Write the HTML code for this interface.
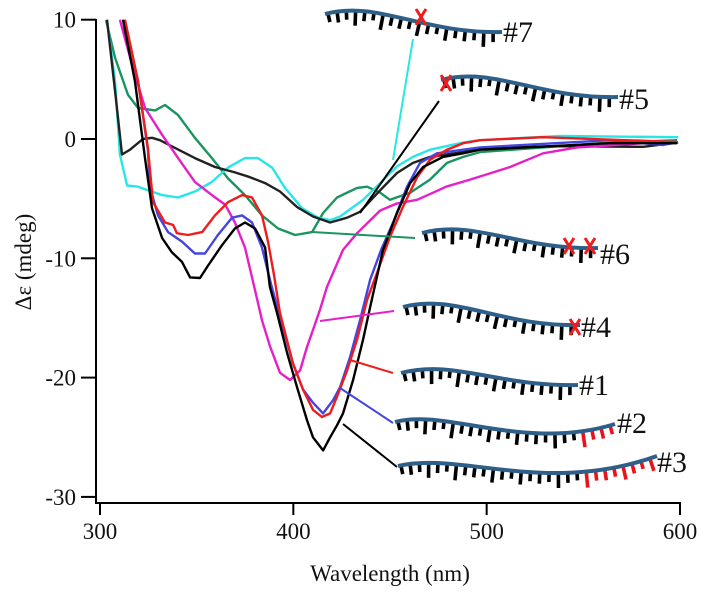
<!DOCTYPE html>
<html><head><meta charset="utf-8"><style>
html,body{margin:0;padding:0;background:#fff;}
svg{display:block;font-family:"Liberation Serif",serif;}
</style></head><body>
<svg id="chart" width="704" height="594" viewBox="0 0 704 594" xmlns="http://www.w3.org/2000/svg">
<g id="axes"></g>
<g id="series"></g>
<g id="cartoons"></g>
</svg>
<script>
const xTicks=[300,400,500,600];
const yTicks=[10,0,-10,-20,-30];
const greenWl=[303.1,307.8,314.5,319.7,328.5,333.6,340.4,349.1,357.9,366.2,375,383.8,392.1,400.9,409.7,415.4,422.6,433,438.1,444.9,450,460.4,470.7,479.5,487.8,496.6,529.2,558.7,598.5];
const greenV=[9.97,6.8,3.7,2.6,2.4,2.85,2.0,0.1,-1.6,-3.3,-4.7,-6.4,-7.5,-8.05,-7.8,-6.2,-4.9,-4.1,-4.0,-4.5,-5.1,-4.5,-3.4,-2.0,-1.5,-1.1,-0.7,-0.35,-0.1];
const cyanWl=[303.6,307.8,310.3,314,319.7,324.8,332.1,340.4,349.1,357.9,366.2,375,381.7,389,395.7,404.5,412.8,419,424.2,436.1,444.9,453.6,461.9,470.7,487.8,496.6,538,599];
const cyanV=[10,4.8,-1.3,-3.9,-4.0,-4.3,-4.7,-4.9,-4.4,-3.6,-2.4,-1.6,-1.6,-2.4,-4.1,-5.8,-6.6,-6.8,-6.5,-5.1,-3.7,-2.3,-1.5,-0.9,-0.3,-0.1,0.25,0.15];
const black5Wl=[303.6,308.3,311.4,315.5,322.2,326.9,331,338.8,349.1,359.5,369.8,377.6,385.4,393.1,401.9,410.2,419,427.8,434.5,444.9,453.6,461.9,470.7,487.8,496.6,538,581,599];
const black5V=[10,3.3,-1.3,-0.9,0,0.1,-0.1,-0.75,-1.6,-2.35,-2.8,-3.2,-3.7,-4.4,-5.7,-6.5,-7.0,-6.6,-6.1,-4.3,-2.85,-2.0,-1.5,-1.1,-0.75,-0.6,-0.65,-0.3];
const magentaWl=[310.3,316.6,323.3,332.1,340.4,349.1,357.9,364.7,369.8,375,380.2,383.8,388,393.1,398.3,403.5,407.1,410.2,413.8,417.4,425.7,433,444.9,453.6,464,472.3,479,491.4,512.1,529.2,546.8,581,598.5];
const magentaV=[10,6.2,2.6,0.35,-1.6,-3.6,-4.7,-5.5,-7.0,-9.1,-12.7,-15.2,-17.4,-19.6,-20.2,-19.4,-17.4,-16,-14.3,-12.4,-9.3,-7.9,-6.0,-5.4,-5.1,-4.5,-4.0,-3.4,-2.35,-1.2,-0.7,-0.35,-0.25];
const redWl=[312.9,319.7,324.8,327.4,333.6,337.8,339.8,345.5,352.8,359.5,366.2,373.5,378.6,383.8,386.9,390,393.1,399.8,405,410.2,414.8,419,422.6,427.8,433,438.1,443.8,450,456.7,464,470.7,479.5,487.8,496.6,529.2,598.5];
const redV=[10,4.8,-0.75,-5.3,-7.0,-7.2,-7.9,-8.05,-7.8,-6.4,-5.3,-4.7,-4.9,-6.4,-8.6,-11.4,-14.6,-18.8,-21,-22.7,-23.3,-23,-21.6,-19.4,-16.8,-13.5,-11,-8.2,-5.7,-3.2,-1.75,-0.9,-0.35,-0.1,0.15,-0.25];
const blueWl=[312.9,319.7,324.8,325.9,330,335.2,342.4,349.1,354.3,361,368.3,373.5,378.6,383.8,388.5,393.1,399.8,405,410.2,415.4,420.5,424.2,429.3,434.5,439.7,445.4,451.6,458.8,465.5,474.3,487.8,496.6,563.8,591.3,599];
const blueV=[10,4.8,-0.9,-4.1,-6.4,-7.8,-8.6,-9.6,-9.6,-8.05,-6.6,-6.4,-7.0,-9.1,-12.2,-14.9,-18.8,-21,-22.1,-23,-21.9,-20.8,-18.3,-15.2,-11.8,-9.3,-7.0,-4.0,-2.0,-1.2,-0.9,-0.7,-0.1,-0.5,-0.25];
const black3Wl=[311.9,318.1,323.3,326.9,332.1,337.2,342.4,346.6,351.7,355.9,363.1,369.8,375,380.2,385.4,387.9,391.6,396.7,401.9,407.1,410.2,415.4,419,422.6,425.7,430.9,436.1,439.7,446.4,453.6,460.4,467.1,477.4,487.8,496.6,563.8,598.5];
const black3V=[10,4.8,-1.6,-5.8,-8.3,-9.5,-10.3,-11.6,-11.65,-10.6,-8.9,-7.5,-7.0,-7.5,-9.1,-12.4,-14.6,-17.9,-20.8,-23.6,-25,-26.1,-25,-24,-23,-20.2,-16.8,-14.1,-9.3,-6.2,-3.7,-2.35,-1.5,-1.2,-0.9,-0.35,-0.35];

const NS="http://www.w3.org/2000/svg";
const xs=wl=>100+(wl-300)*1.9333;
const ys=v=>139-v*11.93;
function mk(tag,attrs,parent){const e=document.createElementNS(NS,tag);for(const k in attrs)e.setAttribute(k,attrs[k]);parent.appendChild(e);return e;}
const axes=document.getElementById('axes');
const ser=document.getElementById('series');
const car=document.getElementById('cartoons');

let e=mk('line',{x1:96,y1:19,x2:96,y2:503,stroke:'#000','stroke-width':2},axes);


e=mk('line',{x1:95,y1:503,x2:681,y2:503,stroke:'#000','stroke-width':2},axes);


xTicks.forEach(t=>{
  const x=xs(t);
  const l=mk('line',{x1:x,y1:503,x2:x,y2:515,stroke:'#000','stroke-width':2},axes);
  
  
  const tx=mk('text',{x:x,y:539,'text-anchor':'middle','font-size':23,fill:'#111'},axes);
  tx.textContent=t;
  
  
});
yTicks.forEach(t=>{
  const y=ys(t);
  const l=mk('line',{x1:81,y1:y,x2:96,y2:y,stroke:'#000','stroke-width':2},axes);
  
  
  const tx=mk('text',{x:76,y:y+8,'text-anchor':'end','font-size':23,fill:'#111'},axes);
  tx.textContent=t;
  
  
});
e=mk('text',{x:390,y:581,'text-anchor':'middle','font-size':23,fill:'#111'},axes);
e.textContent='Wavelength (nm)';


e=mk('text',{x:0,y:0,'text-anchor':'middle','font-size':23,fill:'#111',transform:'translate(31,262) rotate(-90)'},axes);
e.textContent='Δε (mdeg)';



function series(wl,v,color,name){
  const d=wl.map((w,i)=>(i?'L':'M')+xs(w).toFixed(1)+','+ys(v[i]).toFixed(1)).join(' ');
  const p=mk('path',{d:d,fill:'none',stroke:color,'stroke-width':2.4,'stroke-linejoin':'round'},ser);
  
  
}
series(greenWl,greenV,'#1b9460','series-6-green');
series(cyanWl,cyanV,'#28e6e6','series-7-cyan');
series(black5Wl,black5V,'#222','series-5-black');
series(magentaWl,magentaV,'#e620c8','series-4-magenta');
series(blueWl,blueV,'#4545e0','series-2-blue');
series(redWl,redV,'#ee1c1c','series-1-red');
series(black3Wl,black3V,'#000','series-3-black');

function leader(x1,y1,x2,y2,color,name){
  const l=mk('line',{x1,y1,x2,y2,stroke:color,'stroke-width':2},car);
  
  
}
leader(413,39,393,160,'#28e6e6','leader-7');
leader(439,101,360,213,'#000','leader-5');
leader(312,232,415,238,'#1b9460','leader-6');
leader(320,321,394,311,'#e620c8','leader-4');
leader(350,360,393,373,'#ee1c1c','leader-1');
leader(340,388,393,423,'#4545e0','leader-2');
leader(343,424,397,467,'#000','leader-3');

const tickPat=[9,11,9,15,10,8,16,10,11,9,14,10,8,13];
function strand(d,name,redFrom,label,lx,ly,crosses){
  const g=mk('g',{},car);
  
  
  const p=mk('path',{d:d,fill:'none',stroke:'#2e5f88','stroke-width':4},g);
  const L=p.getTotalLength();
  let k=0;
  for(let s=3;s<L-1;s+=9.3){
    const a=p.getPointAtLength(s),b=p.getPointAtLength(Math.min(L,s+1));
    let dx=b.x-a.x,dy=b.y-a.y;const n=Math.hypot(dx,dy)||1;dx/=n;dy/=n;
    const nx=-dy,ny=dx;
    const len=tickPat[k%tickPat.length];k++;
    const col=(redFrom&&a.x>=redFrom)?'#e8141c':'#000';
    mk('line',{x1:a.x,y1:a.y,x2:a.x+nx*len,y2:a.y+ny*len,stroke:col,'stroke-width':3.6},g);
  }
  g.appendChild(p);
  (crosses||[]).forEach(c=>{
    mk('path',{d:`M${c[0]-5},${c[1]-8} L${c[0]+5},${c[1]+8} M${c[0]+5},${c[1]-8} L${c[0]-5},${c[1]+8}`,stroke:'#ee1c1c','stroke-width':3,fill:'none'},g);
  });
  const t=mk('text',{x:lx,y:ly,'font-size':30,fill:'#111'},g);
  t.textContent=label;
}
function desc(x0,y0,x1,y1){const w=x1-x0;return `M${x0},${y0} C${x0+0.3*w},${y0-14} ${x0+0.55*w},${y1+2} ${x1},${y1}`;}
strand(desc(325,14,502,32),'strand-7',0,'#7',503,42,[[421,17]]);
strand(desc(441,80,618,97),'strand-5',0,'#5',619,109,[[446,83]]);
strand(desc(422,233,598,248),'strand-6',0,'#6',600,264,[[569,246],[590,246]]);
strand(desc(403,307,580,325),'strand-4',0,'#4',581,337,[[575,327]]);
strand(desc(401,373,578,385),'strand-1',0,'#1',579,395,[]);
strand('M395,422 C445,408 525,452 615,424','strand-2',575,'#2',617,433,[]);
strand('M398,466 C460,451 545,496 657,456','strand-3',582,'#3',657,472,[]);
</script>
</body></html>
